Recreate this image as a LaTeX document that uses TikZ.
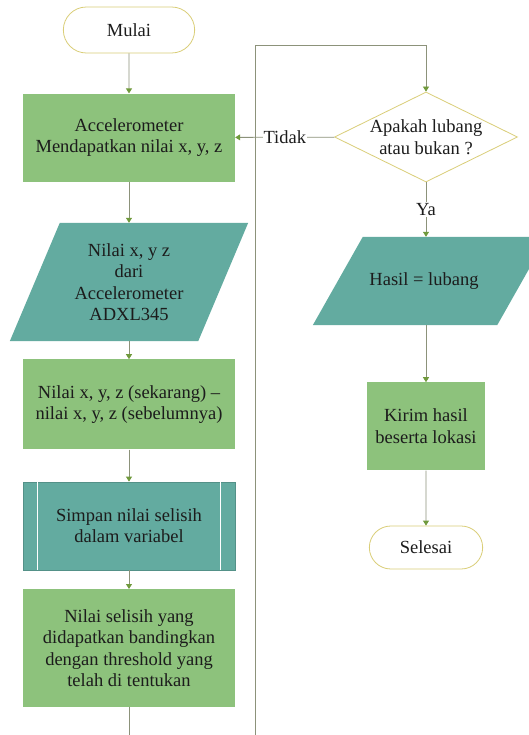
\documentclass[tikz,border=0pt]{standalone}
\usepackage[dvipsnames]{xcolor}
\usepackage{fontspec}
\setmainfont{Liberation Serif}
\usepackage{tikz}
\usetikzlibrary{arrows.meta,%
                shapes,positioning,backgrounds}

\definecolor{kotakhijau}{RGB}{141,194,124}
\definecolor{kotaktosca}{RGB}{99,171,160}
\definecolor{garisuning}{RGB}{218,206,120}
\definecolor{garisabu}{RGB}{140,146,122}
\definecolor{panahhijau}{RGB}{112,154,60}
\definecolor{teks}{RGB}{28,28,28}

\begin{document}
\begin{tikzpicture}[x=1pt, y=1pt]
  \tikzset{TerminalStyle/.style = {shape          = rounded rectangle,
                                   draw           = garisuning,
                                   fill           = white,
                                   line width     = 0.8pt,
                                   text           = teks,
                                   minimum width  = 138pt,
                                   minimum height = 46pt}}
  \tikzset{ProsesStyle/.style = {shape          = rectangle,
                                 fill           = kotakhijau,
                                 text           = teks,
                                 align          = center,
                                 inner sep      = 0pt,
                                 minimum width  = 212pt,
                                 minimum height = 88pt}}
  \tikzset{DataStyle/.style = {shape          = rectangle,
                               text           = teks,
                               align          = center,
                               inner sep      = 0pt}}
  \tikzset{JajarGenjang/.style = {fill = kotaktosca}}
  \tikzset{KeputusanStyle/.style = {shape          = diamond,
                                    draw           = garisuning,
                                    fill           = white,
                                    line width     = 0.8pt,
                                    inner sep      = 0pt,
                                    minimum width  = 183pt,
                                    minimum height = 90pt}}
  \tikzset{FlowStyle/.style = {draw=garisabu, line width=0.8pt,
                               -{Triangle[length=5pt, width=6pt, color=panahhijau]}}}
  \tikzset{LabelStyle/.style = {fill=white, text=teks, inner sep=1pt}}
  \useasboundingbox (0,0) rectangle (529,-735);
  \begin{scope}[font=\fontsize{18.5}{21.5}\selectfont]
	%%% KOLOM KIRI %%%
	\node[TerminalStyle] (mulai) at (129,-30) {Mulai};
	\node[ProsesStyle, below=40pt of mulai] (accel) {Accelerometer\\Mendapatkan nilai x, y, z};
	\node[DataStyle, below=41pt of accel, minimum height=118pt, minimum width=188pt] (input) {Nilai x, y z\\dari\\Accelerometer\\ADXL345};
	\node[ProsesStyle, below=18pt of input, minimum height=90pt] (selisih) {Nilai x, y, z (sekarang) --\\nilai x, y, z (sebelumnya)};
	\node[ProsesStyle, below=32pt of selisih, fill=kotaktosca, draw=kotaktosca!85!black] (simpan) {Simpan nilai selisih\\dalam variabel};
	\draw[white, line width=0.8pt] ([xshift=15pt]simpan.north west) -- ([xshift=15pt]simpan.south west);
	\draw[white, line width=0.8pt] ([xshift=-15pt]simpan.north east) -- ([xshift=-15pt]simpan.south east);
	\node[ProsesStyle, below=19pt of simpan, minimum height=118pt] (banding) {Nilai selisih yang\\didapatkan bandingkan\\dengan threshold yang\\telah di tentukan};
	\draw[FlowStyle] (mulai) -- (accel);
	\draw[FlowStyle] (accel) -- (input);
	\draw[FlowStyle] (input) -- (selisih);
	\draw[FlowStyle] (selisih) -- (simpan);
	\draw[FlowStyle] (simpan) -- (banding);
	%%% KOLOM KANAN %%%
	\node[KeputusanStyle, label={[align=center, text=teks]center:Apakah lubang\\atau bukan ?}] (cek) at (426,-137) {};
	\node[DataStyle, minimum height=88pt, minimum width=184pt] (hasil) at (430,-281) {\hspace*{-12pt}Hasil = lubang};
	\node[ProsesStyle, below=57pt of hasil.south -| cek, minimum width=118pt] (kirim) {Kirim hasil\\beserta lokasi};
	\node[TerminalStyle, below=55pt of kirim, minimum width=120pt, minimum height=43pt] (selesai) {Selesai};
	\draw[FlowStyle] (cek) -- node[LabelStyle]{Tidak} (accel);
	\draw[FlowStyle] (cek) -- node[LabelStyle]{Ya} (cek |- hasil.north);
	\draw[FlowStyle] (hasil.south -| cek) -- (kirim);
	\draw[FlowStyle] (kirim) -- (selesai);
	%%% BALIK KE KEPUTUSAN %%%
	\coordinate (bawah) at (255,-760);
	\coordinate[above=46pt of cek.north] (atas);
	\draw[FlowStyle] (banding.south) |- (bawah) |- (atas) -- (cek.north);
	%%% JAJAR GENJANG %%%
	\begin{pgfonlayer}{background}
	  \fill[white] (0,0) rectangle (529,-735);
	  \fill[JajarGenjang] ([xshift=25pt]input.north west) -- ([xshift=25pt]input.north east)
	    -- ([xshift=-25pt]input.south east) -- ([xshift=-25pt]input.south west) -- cycle;
	  \fill[JajarGenjang] ([xshift=25pt]hasil.north west) -- ([xshift=25pt]hasil.north east)
	    -- ([xshift=-25pt]hasil.south east) -- ([xshift=-25pt]hasil.south west) -- cycle;
	\end{pgfonlayer}
  \end{scope}
\end{tikzpicture}
\end{document}
